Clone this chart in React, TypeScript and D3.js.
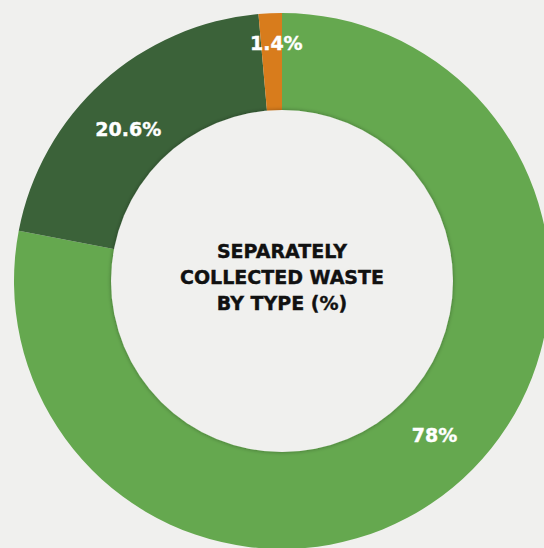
import { useEffect, useRef } from "react";
import * as d3 from "d3";

// slice data, clockwise from 12 o'clock
const categories = ["Green", "Dark green", "Orange"];
const values = [78, 20.6, 1.4];
const labels = ["78%", "20.6%", "1.4%"];
const colors = ["#65a84f", "#3b6239", "#d87c1c"];
const titleLines = ["SEPARATELY", "COLLECTED WASTE", "BY TYPE (%)"];

// label placement tweaks (radius, angle nudge in radians)
const labelRadius = [217, 216, 238];
const labelNudge = [-0.088, -0.057, 0.02];

const W = 544;
const H = 548;
const BG = "#f0f0ee";
const FONT = "'DejaVu Sans', sans-serif";

export default function App() {
    const svgRef = useRef<SVGSVGElement | null>(null);

    useEffect(() => {
        const svg = d3.select(svgRef.current);
        svg.selectAll("*").remove();

        const cx = 282;
        const cy = 281;
        const outerR = 268;
        const innerR = 171;

        const defs = svg.append("defs");
        const f = defs.append("filter")
            .attr("id", "innerShadow")
            .attr("x", "-10%").attr("y", "-10%")
            .attr("width", "120%").attr("height", "120%");
        f.append("feDropShadow")
            .attr("dx", 0).attr("dy", 0)
            .attr("stdDeviation", 2.2)
            .attr("flood-color", "#000")
            .attr("flood-opacity", 0.35);

        svg.append("rect").attr("width", W).attr("height", H).attr("fill", BG);

        const g = svg.append("g").attr("transform", `translate(${cx},${cy})`);

        const pie = d3.pie<number>().sort(null).value(d => d);
        const arcs = pie(values);
        const arc = d3.arc<d3.PieArcDatum<number>>()
            .innerRadius(innerR - 5)
            .outerRadius(outerR);

        g.selectAll("path.slice")
            .data(arcs)
            .join("path")
            .attr("class", "slice")
            .attr("d", arc)
            .attr("fill", (_, i) => colors[i]);

        // inner disc with a soft shadow on the ring
        g.append("circle")
            .attr("r", innerR)
            .attr("fill", BG)
            .attr("filter", "url(#innerShadow)");

        g.selectAll("text.lbl")
            .data(arcs)
            .join("text")
            .attr("class", "lbl")
            .attr("transform", (d, i) => {
                const r = labelRadius[i];
                const a = (d.startAngle + d.endAngle) / 2 + labelNudge[i];
                return `translate(${r * Math.sin(a)},${-r * Math.cos(a)})`;
            })
            .attr("text-anchor", "middle")
            .attr("dy", "0.36em")
            .attr("fill", "#fff")
            .attr("stroke", "#fff")
            .attr("stroke-width", 0.4)
            .style("font-family", FONT)
            .style("font-weight", 700)
            .style("font-size", "19px")
            .text((_, i) => labels[i]);

        const lh = 26;
        g.append("text")
            .attr("text-anchor", "middle")
            .attr("fill", "#111")
            .attr("stroke", "#111")
            .attr("stroke-width", 0.4)
            .style("font-family", FONT)
            .style("font-weight", 700)
            .style("font-size", "19px")
            .selectAll("tspan")
            .data(titleLines)
            .join("tspan")
            .attr("x", 0)
            .attr("y", (_, i) => (i - 1) * lh + 3)
            .text(d => d);
    }, []);

    return (
        <div style={{ position: "fixed", left: 0, top: 0, width: W, height: H, background: BG }}>
            <svg ref={svgRef} width={W} height={H} style={{ display: "block" }} aria-label={categories.join(", ")} />
        </div>
    );
}
